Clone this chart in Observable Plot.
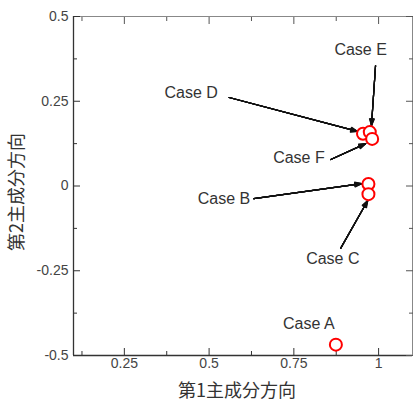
<!DOCTYPE html>
<html><head><meta charset="utf-8">
<script src="https://cdn.jsdelivr.net/npm/d3@7"></script>
<script src="https://cdn.jsdelivr.net/npm/@observablehq/plot@0.6"></script>
<style>body{margin:0;background:#fff}</style>
</head><body><div id="chart"></div>
<script>
const caseNames = ["Case A","Case B","Case C","Case D","Case E","Case F"];
const pc1 = [0.874, 0.970, 0.970, 0.954, 0.974, 0.981];
const pc2 = [-0.468, 0.006, -0.024, 0.154, 0.159, 0.139];
const labelX = [0.794, 0.544, 0.865, 0.447, 0.947, 0.765];
const labelY = [-0.406, -0.037, -0.214, 0.276, 0.403, 0.084];
const arrowX1 = [null, 0.632, 0.888, 0.559, 0.991, 0.859];
const arrowY1 = [null, -0.037, -0.184, 0.261, 0.355, 0.078];
const arrowX2 = [null, 0.950, 0.968, 0.938, 0.979, 0.962];
const arrowY2 = [null, 0.007, -0.043, 0.161, 0.178, 0.125];
const xTicks = [0.25, 0.5, 0.75, 1];
const xMinor = [0.125, 0.375, 0.625, 0.875];
const yTicks = [-0.5, -0.25, 0, 0.25, 0.5];
const yMinor = [-0.375, -0.125, 0.125, 0.375];
const xLabel = "第1主成分方向";
const yLabel = "第2主成分方向";

const pts = caseNames.map((n, i) => ({name: n, x: pc1[i], y: pc2[i], lx: labelX[i], ly: labelY[i],
  x1: arrowX1[i], y1: arrowY1[i], x2: arrowX2[i], y2: arrowY2[i]}));
const arrows = pts.filter(d => d.x1 != null);
const fmt = d => String(d);
const tickFont = {fontSize: 14, fontFamily: "Liberation Sans, Arial, sans-serif"};

const headMarks = [0, 8, 16, 24, 32, 40].map(a => Plot.arrow(arrows, {
  x1: "x1", y1: "y1", x2: "x2", y2: "y2", stroke: "#111", strokeWidth: 1.2,
  headLength: 9, headAngle: a
}));

const chart = Plot.plot({
  width: 413, height: 401,
  marginLeft: 73, marginRight: 1, marginTop: 16, marginBottom: 46,
  style: {background: "#fff", color: "#333", fontFamily: "Liberation Sans, Arial, sans-serif"},
  x: {domain: [0.1, 1.1]},
  y: {domain: [-0.5, 0.5]},
  marks: [
    Plot.frame({stroke: "#888"}),
    Plot.ruleX([0.1], {stroke: "#333", strokeWidth: 1.3}),
    Plot.ruleY([-0.5], {stroke: "#333", strokeWidth: 1.3}),
    Plot.axisX({anchor: "bottom", ticks: xTicks, tickSize: 0, tickPadding: 3, tickFormat: fmt,
      ...tickFont, fill: "#444", label: null}),
    Plot.axisY({anchor: "left", ticks: yTicks, tickSize: 0, tickPadding: 5, tickFormat: fmt,
      ...tickFont, fill: "#444", label: null}),
    Plot.axisX({anchor: "bottom", ticks: xTicks, tickSize: -7, text: null, label: null, stroke: "#333"}),
    Plot.axisX({anchor: "bottom", ticks: xMinor, tickSize: -4, text: null, label: null, stroke: "#333"}),
    Plot.axisX({anchor: "top", ticks: xTicks, tickSize: -7, text: null, label: null, stroke: "#555"}),
    Plot.axisX({anchor: "top", ticks: xMinor, tickSize: -4, text: null, label: null, stroke: "#555"}),
    Plot.axisY({anchor: "left", ticks: yTicks, tickSize: -7, text: null, label: null, stroke: "#333"}),
    Plot.axisY({anchor: "left", ticks: yMinor, tickSize: -4, text: null, label: null, stroke: "#333"}),
    Plot.axisY({anchor: "right", ticks: yTicks, tickSize: -7, text: null, label: null, stroke: "#555"}),
    Plot.axisY({anchor: "right", ticks: yMinor, tickSize: -4, text: null, label: null, stroke: "#555"}),
    Plot.text([xLabel], {frameAnchor: "bottom", text: d => d, dy: 36, dx: -6,
      textAnchor: "middle", lineAnchor: "middle",
      fontSize: 18, fontFamily: "Noto Sans CJK JP", fill: "#333"}),
    Plot.text([yLabel], {frameAnchor: "left", text: d => d, dx: -56, dy: 6, rotate: -90,
      textAnchor: "middle", lineAnchor: "middle",
      fontSize: 18, fontFamily: "Noto Sans CJK JP", fill: "#333"}),
    ...headMarks,
    Plot.text(pts, {x: "lx", y: "ly", text: "name", fontSize: 16, fill: "#333",
      fontFamily: "Liberation Sans, Arial, sans-serif"}),
    Plot.dot(pts, {x: "x", y: "y", r: 6, stroke: "#ff0000", strokeWidth: 2, fill: "#fff"})
  ]
});
document.getElementById("chart").appendChild(chart);
</script>
</body></html>
